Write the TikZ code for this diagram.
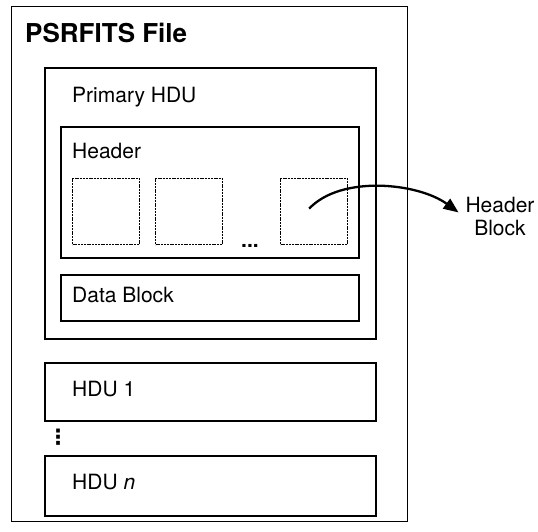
\documentclass[tikz,border=0pt]{standalone}
\usepackage{fontspec}
\setmainfont{TeX Gyre Heros}
\newfontfamily\symfont{DejaVu Sans}
\usetikzlibrary{arrows.meta}
\begin{document}
\begin{tikzpicture}[x=1pt,y=-1pt,
  frame/.style={draw,rectangle,anchor=north west,inner sep=0pt,line width=1.6pt},
  outerframe/.style={frame,line width=1.3pt},
  blk/.style={draw,rectangle,anchor=north west,inner sep=0pt,line width=1.3pt,dash pattern=on 2pt off 0.8pt,minimum width=67pt,minimum height=66pt},
  lbl/.style={anchor=base west,inner sep=0pt,font=\fontsize{21}{25}\selectfont}]
\useasboundingbox (0,0) rectangle (538,531);
% boxes
\node[outerframe,minimum width=396pt,minimum height=515pt] (file) at (11,6) {};
\node[frame,minimum width=331pt,minimum height=271pt] (prim) at (44,67) {};
\node[frame,minimum width=298pt,minimum height=131pt] (hdr) at (60,126) {};
\node[blk] (hb1) at (72,178) {};
\node[blk] (hb2) at (155,178) {};
\node[blk] (hb3) at (280,178) {};
\node[frame,minimum width=298pt,minimum height=46pt] (data) at (60,274) {};
\node[frame,minimum width=331pt,minimum height=58pt] (hdu1) at (44,362) {};
\node[frame,minimum width=331pt,minimum height=60pt] (hdun) at (44,455) {};
% labels
\node[lbl,font=\fontsize{26}{30}\selectfont\bfseries] (tfile) at (25,42) {PSRFITS File};
\node[lbl] (tprim) at (72,102) {Primary HDU};
\node[lbl] (thdr) at (72,158) {Header};
\node[lbl,font=\fontsize{21}{25}\selectfont\bfseries] (tdots) at (241,247) {...};
\node[lbl] (tdata) at (72,302) {Data Block};
\node[lbl] (thdu1) at (72,396) {HDU 1};
\node[lbl] (thdun) at (72,489) {HDU \textit{n}};
\node[inner sep=0pt,font=\symfont\bfseries\fontsize{21}{21}\selectfont] (tvd) at (58,437) {⋮};
\node[inner sep=2pt,align=center,font=\fontsize{21}{23}\selectfont] (hbl) at (500,216) {Header\\Block};
% arrow
\draw[line width=2.3pt,-{Triangle[length=15pt,width=12pt]},shorten >=6pt]
  ([xshift=-5pt,yshift=3pt]hb3.center) .. controls +(32,-34) and +(-45,-33) .. (hbl.west);
\end{tikzpicture}
\end{document}
